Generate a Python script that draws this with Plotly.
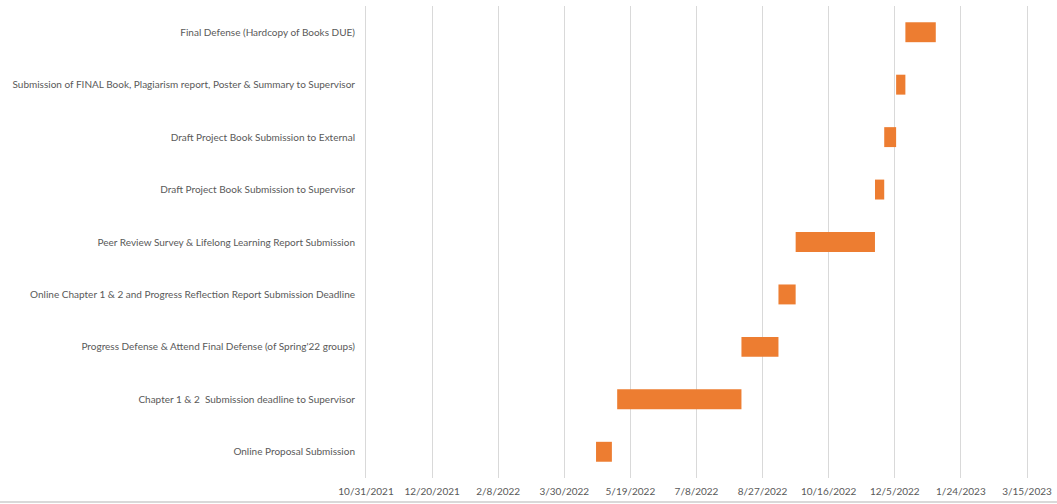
import datetime as dt
import pandas as pd
import plotly.graph_objects as go

tasks = [
    "Online Proposal Submission",
    "Chapter 1 &amp; 2  Submission deadline to Supervisor",
    "Progress Defense &amp; Attend Final Defense (of Spring'22 groups)",
    "Online Chapter 1 &amp; 2 and Progress Reflection Report Submission Deadline",
    "Peer Review Survey &amp; Lifelong Learning Report Submission",
    "Draft Project Book Submission to Supervisor",
    "Draft Project Book Submission to External",
    "Submission of FINAL Book, Plagiarism report, Poster &amp; Summary to Supervisor",
    "Final Defense (Hardcopy of Books DUE)",
]
start_dates = [
    "2022-04-23", "2022-05-09", "2022-08-11", "2022-09-08", "2022-09-21",
    "2022-11-20", "2022-11-27", "2022-12-06", "2022-12-13",
]
end_dates = [
    "2022-05-05", "2022-08-11", "2022-09-08", "2022-09-21", "2022-11-20",
    "2022-11-27", "2022-12-06", "2022-12-13", "2023-01-05",
]
tick_dates = [
    "2021-10-31", "2021-12-20", "2022-02-08", "2022-03-30", "2022-05-19",
    "2022-07-08", "2022-08-27", "2022-10-16", "2022-12-05", "2023-01-24",
    "2023-03-15",
]
tick_labels = [
    "10/31/2021", "12/20/2021", "2/8/2022", "3/30/2022", "5/19/2022",
    "7/8/2022", "8/27/2022", "10/16/2022", "12/5/2022", "1/24/2023",
    "3/15/2023",
]

s = pd.to_datetime(pd.Series(start_dates))
e = pd.to_datetime(pd.Series(end_dates))
dur_ms = ((e - s).dt.total_seconds() * 1000).tolist()

W, H = 1057, 504
L, R, T, B = 366, 0, 6, 26

fig = go.Figure()
fig.add_trace(go.Bar(
    y=list(range(len(tasks))),
    x=dur_ms,
    base=start_dates,
    orientation="h",
    width=0.38,
    marker=dict(color="#ED7D31", line=dict(width=0)),
    hoverinfo="skip",
))

x0 = dt.datetime(2021, 10, 31)
x1 = x0 + dt.timedelta(days=(W - L - R) / 1.322)

font_col = "#595959"
fig.update_layout(
    width=W, height=H,
    margin=dict(l=L, r=R, t=T, b=B, autoexpand=False),
    paper_bgcolor="white", plot_bgcolor="white",
    showlegend=False,
    font=dict(family="Lato, Open Sans, sans-serif", size=10, color=font_col),
    xaxis=dict(
        type="date",
        range=[x0, x1],
        tickvals=tick_dates,
        ticktext=tick_labels,
        showgrid=True, gridcolor="#D9D9D9", gridwidth=1,
        zeroline=False, showline=False,
        ticks="", ticklabelstandoff=6,
        tickfont=dict(size=10, color=font_col),
        automargin=False,
        fixedrange=True,
    ),
    yaxis=dict(
        range=[-0.5, len(tasks) - 0.5],
        tickvals=list(range(len(tasks))),
        ticktext=tasks,
        showgrid=False, zeroline=False,
        showline=True, linecolor="#D9D9D9", linewidth=1,
        ticks="", ticklabelstandoff=8,
        tickfont=dict(size=10, color=font_col),
        automargin=False,
        fixedrange=True,
    ),
    shapes=[dict(
        type="line", xref="paper", yref="paper",
        x0=-L / (W - L - R), x1=1, y0=-24 / (H - T - B), y1=-24 / (H - T - B),
        line=dict(color="#D9D9D9", width=2),
    )],
)

fig.write_html(
    "out.html",
    config={"displayModeBar": False},
    post_script="document.body.style.margin='0';document.body.style.overflow='hidden';",
)
